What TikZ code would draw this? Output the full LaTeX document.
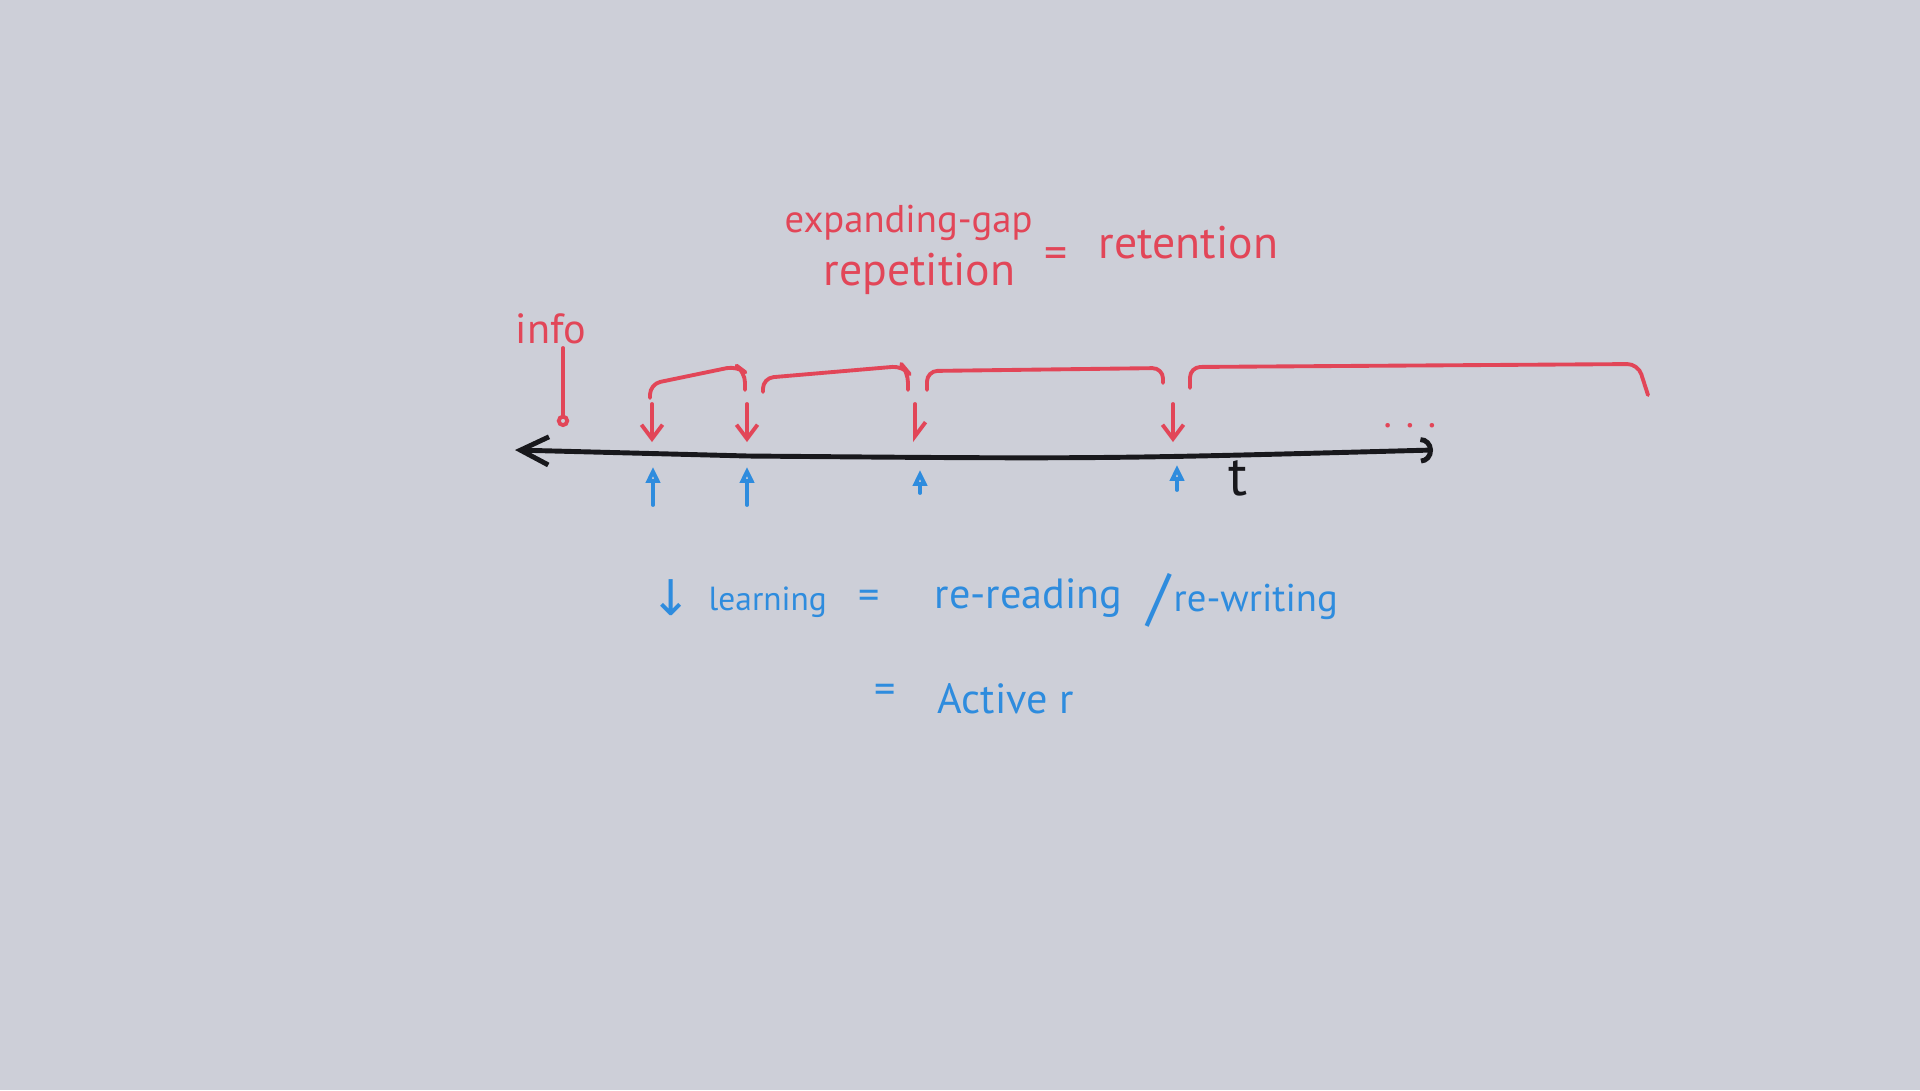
\documentclass[tikz,border=0pt]{standalone}
\usepackage{fontspec}
\setmainfont{PT Sans}
\newfontfamily\arrowfont{DejaVu Sans}
\usetikzlibrary{arrows.meta}
\definecolor{board}{RGB}{205,207,216}
\definecolor{penred}{RGB}{226,70,88}
\definecolor{penblue}{RGB}{46,140,222}
\definecolor{penblack}{RGB}{24,24,28}

\begin{document}
\begin{tikzpicture}[x=0.01cm, y=-0.01cm,
    redpen/.style={penred, line width=1.1pt, line cap=round, line join=round},
    bluepen/.style={penblue, line width=1.1pt, line cap=round},
    redtext/.style={text=penred, inner sep=0pt, font=\fontsize{13}{15}\selectfont},
    bluetext/.style={text=penblue, inner sep=0pt, font=\fontsize{12}{14}\selectfont}]
    % Board
    \fill[board] (0,0) rectangle (1920,1090);
    \useasboundingbox (0,0) rectangle (1920,1090);

    % Heading
    \node[redtext, anchor=base west, font=\fontsize{11}{13}\selectfont] (gap) at (784,232) {expanding-gap};
    \node[redtext, anchor=base west] (rep) at (823,285) {repetition};
    \node[redtext] (eqtop) at (1056,258) {=};
    \node[redtext, anchor=base west] (ret) at (1098,258) {retention};

    % Time axis
    \coordinate (tl) at (515,450);
    \coordinate (kink) at (748,456);
    \coordinate (tr) at (1433,450);
    \draw[penblack, line width=1.4pt, line cap=round,
        {Straight Barb[length=8pt, width=8pt]}-{Arc Barb[length=3.5pt, width=7.5pt]}]
        (tl) -- (kink) .. controls (1100,459) .. (tr);
    \node[text=penblack, inner sep=0pt, anchor=base west, font=\fontsize{16}{18}\selectfont] (t) at (1228,495) {t};
    \node[redtext, anchor=base west, font=\fontsize{11}{13}\selectfont] (more) at (1383,427) {. . .};

    % New information
    \node[redtext, anchor=base west, font=\fontsize{12}{14}\selectfont] (info) at (515,343) {info};
    \coordinate (infobot) at (563,427);
    \draw[redpen, -{Circle[open, length=3.5pt]}] (563,348) -- (infobot);

    % Reviews
    \foreach \n/\x in {1/652,2/747,3/915,4/1173}{
        \coordinate (rtop\n) at (\x,404);
        \coordinate (rbot\n) at (\x,442);
    }
    \foreach \n in {1,2,4}
        \draw[redpen, -{Straight Barb[length=4pt, width=6pt]}] (rtop\n) -- (rbot\n);
    \draw[redpen, -{Straight Barb[left, length=4pt, width=6pt]}] (rtop3) -- (rbot3);

    % Gaps between reviews
    \draw[redpen, rounded corners=3pt] (650,398) -- (650,384) -- (737,366) -- (745,372) -- (745,390);
    \draw[redpen, rounded corners=3pt] (763,392) -- (763,378) -- (903,366) -- (908,372) -- (908,390);
    \draw[redpen, rounded corners=3pt] (927,390) -- (927,371) -- (1163,368) -- (1163,383);
    \draw[redpen, rounded corners=3pt] (1190,388) -- (1190,367) -- (1638,364) -- (1648,395);

    % Recall points
    \foreach \n/\x/\ya/\yb in {1/653/505/467, 2/747/505/467, 3/920/493/470, 4/1177/490/465}{
        \coordinate (bbot\n) at (\x,\ya);
        \coordinate (btop\n) at (\x,\yb);
        \draw[bluepen, -{Triangle[open, length=4.5pt, width=4pt]}] (bbot\n) -- (btop\n);
    }

    % Notes
    \node[bluetext, font=\arrowfont\fontsize{14}{16}\selectfont] (less) at (671,598) {↓};
    \node[bluetext, anchor=base west, font=\fontsize{9.5}{11}\selectfont] (learn) at (708,610) {learning};
    \node[bluetext] (eqa) at (869,600) {=};
    \node[bluetext, anchor=base west] (reread) at (934,608) {re-reading};
    \node[bluetext, font=\fontsize{18}{20}\selectfont] (slash) at (1159,600) {/};
    \node[bluetext, anchor=base west, font=\fontsize{11}{13}\selectfont] (rewrite) at (1173,611) {re-writing};
    \node[bluetext] (eqb) at (885,694) {=};
    \node[bluetext, anchor=base west, font=\fontsize{12}{14}\selectfont] (active) at (937,713) {Active r};
\end{tikzpicture}
\end{document}
